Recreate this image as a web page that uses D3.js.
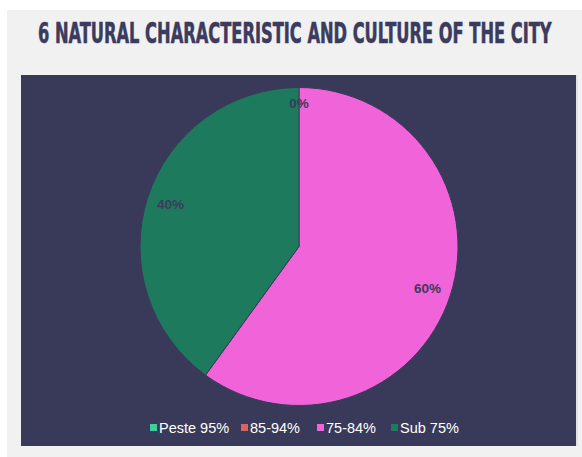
<!DOCTYPE html>
<html>
<head>
<meta charset="utf-8">
<script src="https://cdn.jsdelivr.net/npm/d3@7"></script>
<style>
  html, body { margin: 0; padding: 0; background: #ffffff; }
  svg { display: block; }
</style>
</head>
<body>
<svg id="chart" width="582" height="457"></svg>
<script>
// Score bands and their share of the city sample
const categories = ["Peste 95%", "85-94%", "75-84%", "Sub 75%"];
const values = [0, 0, 60, 40];
const colors = ["#3dcf9b", "#e0605a", "#f063d9", "#1e7a5c"];
const titleText = "6 NATURAL CHARACTERISTIC AND CULTURE OF THE CITY";

const svg = d3.select("#chart");
const W = 582, H = 457;

// Outer light panel
svg.append("rect").attr("x", 7).attr("y", 10).attr("width", W - 7).attr("height", H - 10)
  .attr("fill", "#f1f1f1");

// Title, squeezed horizontally into a condensed look
const title = svg.append("text")
  .attr("font-family", "'Liberation Sans Narrow', 'DejaVu Sans Condensed', sans-serif")
  .attr("font-weight", "bold").attr("font-size", 28)
  .attr("fill", "#3b3b5e")
  .attr("stroke", "#3b3b5e").attr("stroke-width", 0.6)
  .text(titleText);
const tw = title.node().getComputedTextLength();
const targetW = 514;
title.attr("transform", `translate(38,43) scale(${targetW / tw},1)`);

// Dark chart area
svg.append("rect").attr("x", 576).attr("y", 75).attr("width", 2).attr("height", 371).attr("fill", "#e2e2e6");
svg.append("rect").attr("x", 21).attr("y", 75).attr("width", 555).attr("height", 371)
  .attr("fill", "#393a5a");

const cx = 299, cy = 246.5, r = 159;
const data = categories.map((c, i) => ({ name: c, value: values[i], color: colors[i] }));

const pie = d3.pie().sort(null).value(d => d.value);
const arcs = pie(data);
const arc = d3.arc().innerRadius(0).outerRadius(r);

const g = svg.append("g").attr("transform", `translate(${cx},${cy})`);
g.selectAll("path").data(arcs.filter(a => a.data.value > 0)).join("path")
  .attr("d", arc)
  .attr("fill", d => d.data.color)
  .attr("stroke", "#393a5a").attr("stroke-width", 1);

// Percentage labels
const total = d3.sum(values);
const labelArc = d3.arc().innerRadius(r * 0.85).outerRadius(r * 0.85);
const zeroArc = d3.arc().innerRadius(r * 0.9).outerRadius(r * 0.9);
const labelled = arcs.filter((a, i, all) => a.data.value > 0 || all.findIndex(b => b.data.value === 0) === i);
g.selectAll("text.lbl").data(labelled).join("text")
  .attr("class", "lbl")
  .attr("transform", d => `translate(${(d.data.value > 0 ? labelArc : zeroArc).centroid(d)})`)
  .attr("text-anchor", "middle").attr("dy", "0.35em")
  .attr("font-family", "'Liberation Sans', Arial, sans-serif")
  .attr("font-weight", "bold").attr("font-size", 13.5)
  .attr("fill", "#3b3b5e")
  .text(d => Math.round(d.data.value / total * 100) + "%");

// Legend
const legend = svg.append("g").attr("font-family", "'Liberation Sans', Arial, sans-serif").attr("font-size", 14.5);
const itemX = [150, 241, 317, 391];
const items = legend.selectAll("g").data(data).join("g")
  .attr("transform", (d, i) => `translate(${itemX[i]},428)`);
items.append("rect").attr("x", 0).attr("y", -4).attr("width", 7).attr("height", 7).attr("fill", d => d.color);
items.append("text").attr("x", 9).attr("dy", "0.36em").attr("fill", "#ffffff").text(d => d.name);
</script>
</body>
</html>
